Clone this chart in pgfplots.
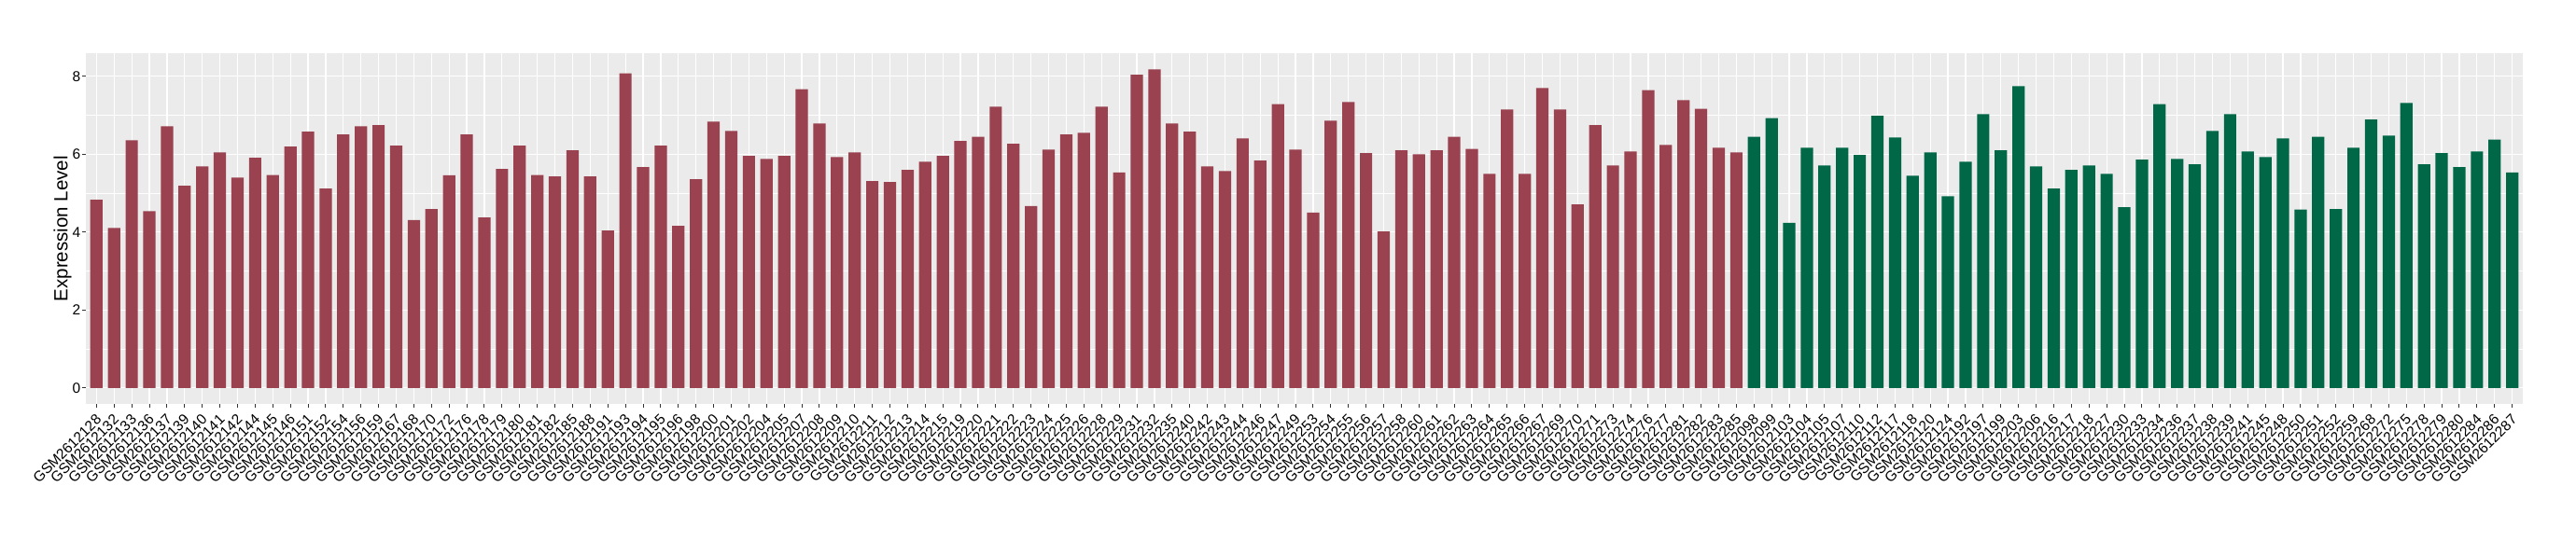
\documentclass[border=0pt]{standalone}
\usepackage{fontspec}
\setmainfont{Liberation Sans}
\usepackage{pgfplots}
\pgfplotsset{compat=1.18}
\usepackage{pgfplotstable}
\definecolor{barred}{RGB}{155,66,81}
\definecolor{bargreen}{RGB}{0,104,71}
\definecolor{panelgray}{HTML}{EBEBEB}
\definecolor{tickgray}{HTML}{333333}

\pgfplotstableread{
x y
0 4.83
1 4.11
2 6.36
3 4.54
4 6.72
5 5.19
6 5.69
7 6.05
8 5.40
9 5.91
10 5.47
11 6.20
12 6.58
13 5.12
14 6.51
15 6.72
16 6.75
17 6.22
18 4.31
19 4.59
20 5.46
21 6.51
22 4.38
23 5.62
24 6.22
25 5.47
26 5.43
27 6.10
28 5.43
29 4.04
30 8.08
31 5.67
32 6.22
33 4.16
34 5.36
35 6.84
36 6.60
37 5.96
38 5.88
39 5.96
40 7.67
41 6.79
42 5.93
43 6.05
44 5.31
45 5.29
46 5.60
47 5.81
48 5.96
49 6.34
50 6.45
51 7.22
52 6.27
53 4.67
54 6.12
55 6.51
56 6.55
57 7.22
58 5.53
59 8.04
60 8.18
61 6.79
62 6.58
63 5.69
64 5.57
65 6.41
66 5.84
67 7.29
68 6.12
69 4.50
70 6.86
71 7.34
72 6.03
73 4.02
74 6.10
75 6.00
76 6.10
77 6.45
78 6.14
79 5.50
80 7.15
81 5.50
82 7.70
83 7.15
84 4.71
85 6.75
86 5.71
87 6.07
88 7.65
89 6.24
90 7.39
91 7.17
92 6.17
93 6.05
}\redtable

\pgfplotstableread{
x y
94 6.45
95 6.93
96 4.24
97 6.17
98 5.71
99 6.17
100 5.98
101 6.99
102 6.43
103 5.45
104 6.05
105 4.92
106 5.81
107 7.03
108 6.10
109 7.75
110 5.69
111 5.12
112 5.60
113 5.71
114 5.50
115 4.64
116 5.86
117 7.29
118 5.88
119 5.74
120 6.60
121 7.03
122 6.07
123 5.93
124 6.41
125 4.58
126 6.45
127 4.59
128 6.17
129 6.89
130 6.48
131 7.32
132 5.74
133 6.03
134 5.67
135 6.07
136 6.38
137 5.53
}\greentable

\begin{document}
\begin{tikzpicture}
\path[use as bounding box] (-46pt,-73.55pt) rectangle (1334pt,216.45pt);
\begin{axis}[
  at={(0pt,0pt)}, anchor=south west,
  scale only axis, width=1305.5pt, height=187.8pt,
  xmin=-0.6, xmax=137.6, ymin=-0.409, ymax=8.589,
  axis background/.style={fill=panelgray},
  axis line style={draw=none},
  ybar, bar width=0.7, bar shift=0pt,
  xtick={0,...,137},
  xticklabels={GSM2612128,GSM2612132,GSM2612133,GSM2612136,GSM2612137,GSM2612139,GSM2612140,GSM2612141,GSM2612142,GSM2612144,GSM2612145,GSM2612146,GSM2612151,GSM2612152,GSM2612154,GSM2612156,GSM2612159,GSM2612167,GSM2612168,GSM2612170,GSM2612172,GSM2612176,GSM2612178,GSM2612179,GSM2612180,GSM2612181,GSM2612182,GSM2612185,GSM2612188,GSM2612191,GSM2612193,GSM2612194,GSM2612195,GSM2612196,GSM2612198,GSM2612200,GSM2612201,GSM2612202,GSM2612204,GSM2612205,GSM2612207,GSM2612208,GSM2612209,GSM2612210,GSM2612211,GSM2612212,GSM2612213,GSM2612214,GSM2612215,GSM2612219,GSM2612220,GSM2612221,GSM2612222,GSM2612223,GSM2612224,GSM2612225,GSM2612226,GSM2612228,GSM2612229,GSM2612231,GSM2612232,GSM2612235,GSM2612240,GSM2612242,GSM2612243,GSM2612244,GSM2612246,GSM2612247,GSM2612249,GSM2612253,GSM2612254,GSM2612255,GSM2612256,GSM2612257,GSM2612258,GSM2612260,GSM2612261,GSM2612262,GSM2612263,GSM2612264,GSM2612265,GSM2612266,GSM2612267,GSM2612269,GSM2612270,GSM2612271,GSM2612273,GSM2612274,GSM2612276,GSM2612277,GSM2612281,GSM2612282,GSM2612283,GSM2612285,GSM2612098,GSM2612099,GSM2612103,GSM2612104,GSM2612105,GSM2612107,GSM2612110,GSM2612112,GSM2612117,GSM2612118,GSM2612120,GSM2612124,GSM2612192,GSM2612197,GSM2612199,GSM2612203,GSM2612206,GSM2612216,GSM2612217,GSM2612218,GSM2612227,GSM2612230,GSM2612233,GSM2612234,GSM2612236,GSM2612237,GSM2612238,GSM2612239,GSM2612241,GSM2612245,GSM2612248,GSM2612250,GSM2612251,GSM2612252,GSM2612259,GSM2612268,GSM2612272,GSM2612275,GSM2612278,GSM2612279,GSM2612280,GSM2612284,GSM2612286,GSM2612287},
  ytick={0,2,4,6,8},
  minor ytick={1,3,5,7},
  xmajorgrids, ymajorgrids, yminorgrids,
  major grid style={draw=white, line width=0.6pt},
  minor grid style={draw=white, line width=0.3pt},
  tick align=outside,
  xtick pos=left, ytick pos=left,
  major tick length=1.85pt, minor tick length=0pt,
  tick style={draw=tickgray, line width=0.5pt},
  /pgf/number format/assume math mode=true,
  yticklabel style={font=\fontsize{7.75}{9}\selectfont, anchor=east, inner sep=0pt, xshift=-0.8pt},
  xticklabel style={font=\fontsize{7.75}{9}\selectfont, yshift=-3pt, xshift=-0.8pt, rotate=45, anchor=north east, inner sep=0pt},
  ylabel={Expression Level},
  ylabel style={font=\fontsize{10.25}{12}\selectfont, at={(axis description cs:-0.007545,0.5)}, anchor=base},
]
\addplot[fill=barred, draw=none] table[x=x, y=y] {\redtable};
\addplot[fill=bargreen, draw=none] table[x=x, y=y] {\greentable};
\end{axis}
\end{tikzpicture}
\end{document}
